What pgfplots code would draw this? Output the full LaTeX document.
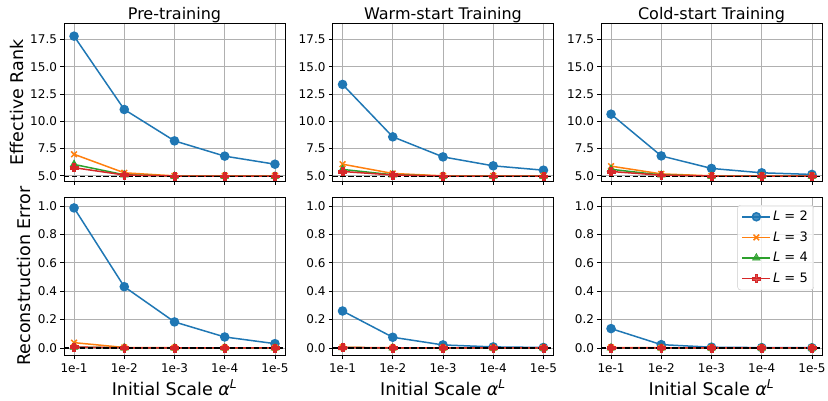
\documentclass[border=0pt]{standalone}
\usepackage{fontspec}
\setmainfont{DejaVu Sans}
\usepackage{pgfplots}
\pgfplotsset{compat=1.18}
\usepgfplotslibrary{groupplots}

\definecolor{cA}{HTML}{1F77B4}
\definecolor{cB}{HTML}{FF7F0E}
\definecolor{cC}{HTML}{2CA02C}
\definecolor{cD}{HTML}{D62728}
\definecolor{gridgray}{HTML}{B0B0B0}
\definecolor{legendgray}{HTML}{CCCCCC}

% filled plus, like matplotlib's 'P'
\pgfdeclareplotmark{Pplus}{%
  \pgfpathmoveto{\pgfqpoint{-0.33\pgfplotmarksize}{\pgfplotmarksize}}%
  \pgfpathlineto{\pgfqpoint{0.33\pgfplotmarksize}{\pgfplotmarksize}}%
  \pgfpathlineto{\pgfqpoint{0.33\pgfplotmarksize}{0.33\pgfplotmarksize}}%
  \pgfpathlineto{\pgfqpoint{\pgfplotmarksize}{0.33\pgfplotmarksize}}%
  \pgfpathlineto{\pgfqpoint{\pgfplotmarksize}{-0.33\pgfplotmarksize}}%
  \pgfpathlineto{\pgfqpoint{0.33\pgfplotmarksize}{-0.33\pgfplotmarksize}}%
  \pgfpathlineto{\pgfqpoint{0.33\pgfplotmarksize}{-\pgfplotmarksize}}%
  \pgfpathlineto{\pgfqpoint{-0.33\pgfplotmarksize}{-\pgfplotmarksize}}%
  \pgfpathlineto{\pgfqpoint{-0.33\pgfplotmarksize}{-0.33\pgfplotmarksize}}%
  \pgfpathlineto{\pgfqpoint{-\pgfplotmarksize}{-0.33\pgfplotmarksize}}%
  \pgfpathlineto{\pgfqpoint{-\pgfplotmarksize}{0.33\pgfplotmarksize}}%
  \pgfpathlineto{\pgfqpoint{-0.33\pgfplotmarksize}{0.33\pgfplotmarksize}}%
  \pgfpathclose
  \pgfusepathqfillstroke
}

\pgfplotsset{
  sL2/.style={color=cA,line width=1.5pt,mark=*,mark size=4pt,mark options={fill=cA,draw=cA}},
  sL3/.style={color=cB,line width=1.5pt,mark=x,mark size=4pt,mark options={line width=1.5pt}},
  sL4/.style={color=cC,line width=1.5pt,mark=triangle*,mark size=4.5pt,mark options={fill=cC,draw=cC,line width=0.5pt}},
  sL5/.style={color=cD,line width=1.5pt,mark=Pplus,mark size=4pt,mark options={fill=cD,draw=cD,line width=0.5pt}},
  refline/.style={black,line width=1.5pt,dash pattern=on 5.5pt off 2.4pt},
  toprow/.style={ymin=4.5,ymax=19,ytick={5,7.5,10,12.5,15,17.5},xticklabels={}},
  botrow/.style={ymin=-0.05,ymax=1.063,ytick={0,0.2,0.4,0.6,0.8,1.0},
    xticklabels={1e-1,1e-2,1e-3,1e-4,1e-5},xlabel={Initial Scale \textit{α}\textsuperscript{\textit{L}}}},
}

\begin{document}
\begin{tikzpicture}
\begin{groupplot}[
  group style={group size=3 by 2,horizontal sep=47.5pt,vertical sep=15.7pt},
  width=221pt,height=158pt,scale only axis,
  xmin=-0.2,xmax=4.2,xtick={0,1,2,3,4},
  tick align=outside,tick pos=left,major tick length=3.5pt,
  every tick/.style={black,line width=0.8pt},
  axis line style={line width=0.8pt},
  grid=major,grid style={draw=gridgray,line width=0.8pt},
  tick label style={font=\fontsize{12}{14}\selectfont},
  xticklabel style={yshift=-2pt},
  label style={font=\fontsize{17.5}{20}\selectfont},
  title style={font=\fontsize{16}{19}\selectfont,yshift=-9.5pt},
  /pgf/number format/assume math mode=true,
  yticklabel style={/pgf/number format/.cd,fixed,fixed zerofill,precision=1},
  legend image code/.code={\draw[mark repeat=2,mark phase=2] plot coordinates {(0pt,0pt) (14pt,0pt) (28pt,0pt)};},
]

% effective rank
\nextgroupplot[toprow,title={Pre-training},ylabel={Effective Rank}]
\addplot[sL2] coordinates {(0,17.82) (1,11.09) (2,8.21) (3,6.81) (4,6.07)};
\addplot[sL3] coordinates {(0,6.98) (1,5.28) (2,5.0) (3,5.0) (4,5.0)};
\addplot[sL4] coordinates {(0,6.05) (1,5.1) (2,4.97) (3,4.97) (4,4.97)};
\addplot[sL5] coordinates {(0,5.75) (1,5.08) (2,4.98) (3,4.98) (4,4.98)};
\addplot[refline] coordinates {(-0.2,4.93) (4.2,4.93)};

\nextgroupplot[toprow,title={Warm-start Training}]
\addplot[sL2] coordinates {(0,13.39) (1,8.58) (2,6.74) (3,5.92) (4,5.52)};
\addplot[sL3] coordinates {(0,6.07) (1,5.22) (2,5.0) (3,5.0) (4,5.0)};
\addplot[sL4] coordinates {(0,5.59) (1,5.1) (2,4.97) (3,4.97) (4,4.97)};
\addplot[sL5] coordinates {(0,5.4) (1,5.08) (2,4.98) (3,4.98) (4,4.98)};
\addplot[refline] coordinates {(-0.2,4.93) (4.2,4.93)};

\nextgroupplot[toprow,title={Cold-start Training}]
\addplot[sL2] coordinates {(0,10.66) (1,6.83) (2,5.68) (3,5.28) (4,5.13)};
\addplot[sL3] coordinates {(0,5.89) (1,5.18) (2,5.0) (3,5.0) (4,5.0)};
\addplot[sL4] coordinates {(0,5.6) (1,5.08) (2,4.97) (3,4.97) (4,4.97)};
\addplot[sL5] coordinates {(0,5.4) (1,5.06) (2,4.98) (3,4.98) (4,4.98)};
\addplot[refline] coordinates {(-0.2,4.93) (4.2,4.93)};

% reconstruction error
\nextgroupplot[botrow,ylabel={Reconstruction Error}]
\addplot[sL2] coordinates {(0,0.986) (1,0.431) (2,0.183) (3,0.077) (4,0.030)};
\addplot[sL3] coordinates {(0,0.037) (1,0.003) (2,0.001) (3,0.001) (4,0.001)};
\addplot[sL4] coordinates {(0,0.005) (1,0.001) (2,0.0) (3,0.0) (4,0.0)};
\addplot[sL5] coordinates {(0,0.006) (1,0.001) (2,0.0) (3,0.0) (4,0.0)};
\addplot[refline] coordinates {(-0.2,0) (4.2,0)};

\nextgroupplot[botrow]
\addplot[sL2] coordinates {(0,0.260) (1,0.075) (2,0.021) (3,0.007) (4,0.003)};
\addplot[sL3] coordinates {(0,0.004) (1,0.001) (2,0.0) (3,0.0) (4,0.0)};
\addplot[sL4] coordinates {(0,0.002) (1,0.0) (2,0.0) (3,0.0) (4,0.0)};
\addplot[sL5] coordinates {(0,0.002) (1,0.0) (2,0.0) (3,0.0) (4,0.0)};
\addplot[refline] coordinates {(-0.2,0) (4.2,0)};

\nextgroupplot[botrow,
  legend style={at={(1,1)},anchor=north east,xshift=-8pt,yshift=-8pt,
    draw=legendgray,rounded corners=3pt,fill=white,fill opacity=0.8,text opacity=1,
    font=\fontsize{13}{15}\selectfont,row sep=5.5pt,inner sep=4pt,cells={anchor=west}},
  legend cell align=left]
\addplot[sL2] coordinates {(0,0.136) (1,0.023) (2,0.005) (3,0.002) (4,0.001)};
\addlegendentry{\textit{L} = 2}
\addplot[sL3] coordinates {(0,0.003) (1,0.001) (2,0.0) (3,0.0) (4,0.0)};
\addlegendentry{\textit{L} = 3}
\addplot[sL4] coordinates {(0,0.001) (1,0.0) (2,0.0) (3,0.0) (4,0.0)};
\addlegendentry{\textit{L} = 4}
\addplot[sL5] coordinates {(0,0.001) (1,0.0) (2,0.0) (3,0.0) (4,0.0)};
\addlegendentry{\textit{L} = 5}
\addplot[refline,forget plot] coordinates {(-0.2,0) (4.2,0)};

\end{groupplot}
\pgfresetboundingbox
\path (group c1r1.north west) ++(-64pt,23.3pt) rectangle ++(828pt,-400pt);
\end{tikzpicture}
\end{document}
